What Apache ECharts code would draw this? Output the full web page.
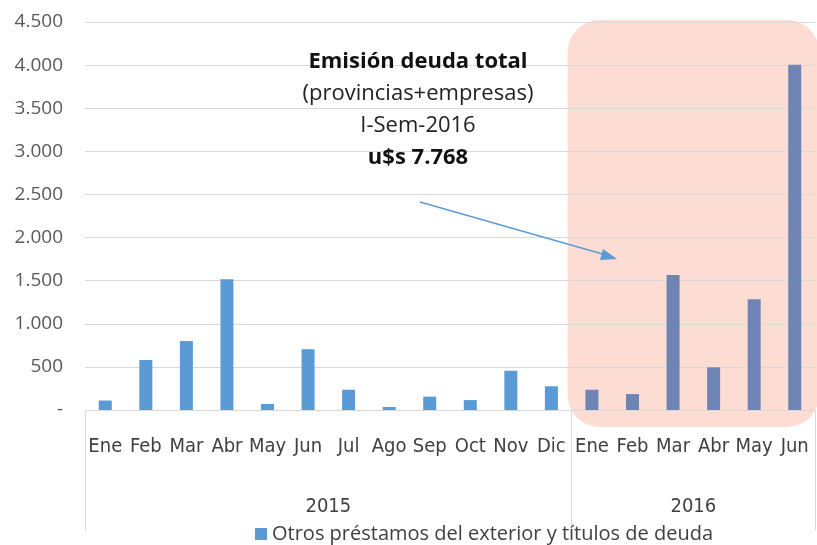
<!DOCTYPE html>
<html>
<head>
<meta charset="utf-8">
<script src="https://cdn.jsdelivr.net/npm/echarts@6/dist/echarts.min.js"></script>
<style>
  html, body { margin: 0; padding: 0; background: #fff; }
  #main { width: 817px; height: 545px; }
</style>
</head>
<body>
<div id="main"></div>
<script>
// datos
var months = ['Ene','Feb','Mar','Abr','May','Jun','Jul','Ago','Sep','Oct','Nov','Dic',
              'Ene','Feb','Mar','Abr','May','Jun'];
var years = ['2015', '2016'];
var values2015 = [110, 580, 800, 1515, 70, 705, 235, 35, 155, 115, 455, 275];
var values2016 = [235, 185, 1565, 495, 1285, 4005];
var yTicks = [0, 500, 1000, 1500, 2000, 2500, 3000, 3500, 4000, 4500];
var seriesName = 'Otros préstamos del exterior y títulos de deuda';
var noteLines = ['Emisión deuda total', '(provincias+empresas)', 'I-Sem-2016', 'u$s 7.768'];

var blue = '#5B9BD5';
var slate = '#6D84B4';
var narrow = "'Liberation Sans Narrow', 'DejaVu Sans Condensed', sans-serif";
var sans = "'Open Sans', 'Liberation Sans', sans-serif";

function fmtMiles(v) {
    if (v === 0) return '-';
    return String(v).replace(/\B(?=(\d{3})+(?!\d))/g, '.');
}

var barData = [];
values2015.forEach(function (v) { barData.push({value: v}); });
values2016.forEach(function (v) { barData.push({value: v, itemStyle: {color: slate}}); });

var myChart = echarts.init(document.getElementById('main'));
var option = {
    animation: false,
    backgroundColor: '#fff',
    color: [blue],
    grid: { left: 85, right: 2, top: 22, bottom: 135 },
    legend: {
        bottom: -4,
        left: 250,
        itemWidth: 12,
        itemHeight: 12,
        itemGap: 4,
        icon: 'rect',
        textStyle: { fontFamily: sans, fontSize: 20, color: '#404040' },
        data: [seriesName]
    },
    xAxis: [{
        type: 'category',
        data: months,
        axisLine: { show: true, lineStyle: { color: '#d9d9d9' } },
        axisTick: { show: false },
        axisLabel: { interval: 0, margin: 27, fontFamily: narrow, fontSize: 20, color: '#404040' }
    }, {
        type: 'value',
        min: 0,
        max: 18,
        position: 'bottom',
        axisLine: { show: false },
        splitLine: { show: false },
        axisTick: {
            show: true,
            customValues: [0, 12, 18],
            length: 120,
            lineStyle: { color: '#d9d9d9' }
        },
        axisLabel: {
            customValues: [6, 15],
            margin: 87,
            fontFamily: narrow,
            fontSize: 20,
            color: '#404040',
            formatter: function (v) { return v === 6 ? years[0] : years[1]; }
        }
    }],
    yAxis: {
        type: 'value',
        min: yTicks[0],
        max: yTicks[yTicks.length - 1],
        interval: 500,
        axisLine: { show: false },
        axisTick: { show: false },
        splitLine: { lineStyle: { color: '#d9d9d9' } },
        axisLabel: {
            margin: 22,
            fontFamily: sans,
            fontSize: 19,
            color: '#595959',
            formatter: fmtMiles
        }
    },
    series: [{
        name: seriesName,
        type: 'bar',
        barWidth: 13,
        data: barData
    }]
};
myChart.setOption(option);

// recuadro rosado y anotacion
var p0 = myChart.convertToPixel({xAxisIndex: 1}, 12);
var pTop = myChart.convertToPixel({yAxisIndex: 0}, 4500);
var pZero = myChart.convertToPixel({yAxisIndex: 0}, 0);
var boxX = p0 - 4;

var texts = noteLines.map(function (t, i) {
    var bold = (i === 0 || i === 3);
    return {
        type: 'text',
        z: 10,
        style: {
            text: t,
            x: 418,
            y: 62 + i * 32,
            align: 'center',
            verticalAlign: 'middle',
            fill: bold ? '#111' : '#222',
            font: (bold ? 'bold ' : '') + '22px ' + sans
        }
    };
});

myChart.setOption({
    graphic: [{
        type: 'rect',
        z: -1,
        silent: true,
        shape: { x: boxX, y: pTop - 2, width: 817 - boxX + 2, height: pZero - pTop + 19, r: 32 },
        style: { fill: '#FCDCD3' }
    }, {
        type: 'line',
        z: 10,
        shape: { x1: 420, y1: 202, x2: 606, y2: 255 },
        style: { stroke: '#5B9BD5', lineWidth: 1.3 }
    }, {
        type: 'polygon',
        z: 10,
        shape: { points: [[617, 259], [603, 249], [600, 260]] },
        style: { fill: '#5B9BD5' }
    }].concat(texts)
});
</script>
</body>
</html>
